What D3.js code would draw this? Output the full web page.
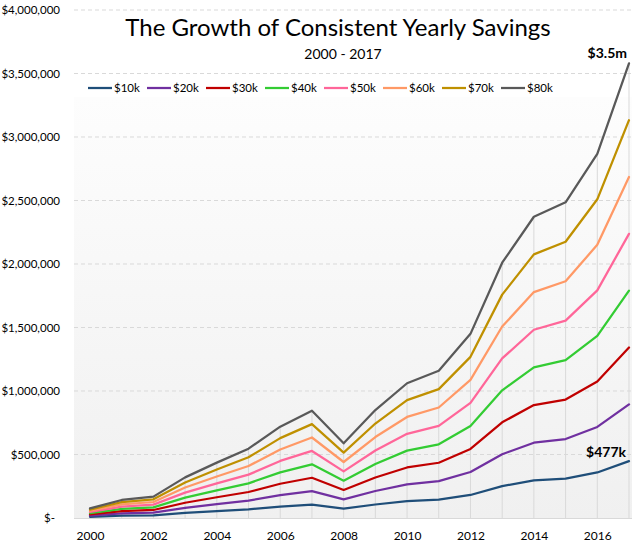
<!DOCTYPE html>
<html>
<head>
<meta charset="utf-8">
<script src="https://cdn.jsdelivr.net/npm/d3@7"></script>
<style>
  html, body { margin: 0; padding: 0; background: #ffffff; }
  svg { display: block; font-family: Lato, "Open Sans", sans-serif; }
</style>
</head>
<body>
<svg id="chart" width="632" height="545"></svg>
<script>
const years = [2000,2001,2002,2003,2004,2005,2006,2007,2008,2009,2010,2011,2012,2013,2014,2015,2016,2017];
const yearTickLabels = [2000,2002,2004,2006,2008,2010,2012,2014,2016];
const seriesNames = ["$10k","$20k","$30k","$40k","$50k","$60k","$70k","$80k"];
const seriesColors = ["#1f4e79","#7030a0","#c00000","#33cc33","#ff6699","#ff9966","#bf9000","#595959"];
// values in dollars
const s10k = [9500,17800,21000,40000,54500,68300,89900,105600,73500,106300,132600,145000,181300,251300,296500,310800,358500,447500];
const s20k = [19000,35500,42000,80000,109000,136500,179800,211300,147000,212500,265300,290000,362500,502500,593000,621500,717000,895000];
const s30k = [28500,53300,63000,120000,163500,204800,269600,316900,220500,318800,397900,435000,543800,753800,889500,932300,1075500,1342500];
const s40k = [38000,71000,84000,160000,218000,273000,359500,422500,294000,425000,530500,580000,725000,1005000,1186000,1243000,1434000,1790000];
const s50k = [47500,88800,105000,200000,272500,341300,449400,528100,367500,531300,663100,725000,906300,1256300,1482500,1553800,1792500,2237500];
const s60k = [57000,106500,126000,240000,327000,409500,539300,633800,441000,637500,795800,870000,1087500,1507500,1779000,1864500,2151000,2685000];
const s70k = [66500,124300,147000,280000,381500,477800,629100,739400,514500,743800,928400,1015000,1268800,1758800,2075500,2175300,2509500,3132500];
const s80k = [76000,142000,168000,320000,436000,546000,719000,845000,588000,850000,1061000,1160000,1450000,2010000,2372000,2486000,2868000,3580000];
const yTicks = [0,500000,1000000,1500000,2000000,2500000,3000000,3500000,4000000];
const titleText = "The Growth of Consistent Yearly Savings";
const subtitleText = "2000 - 2017";
const endLabelTop = "$3.5m";
const endLabelBottom = "$477k";

const allSeries = [s10k,s20k,s30k,s40k,s50k,s60k,s70k,s80k];

const svg = d3.select("#chart");
const x = d3.scalePoint().domain(years).range([90, 629]);
const y = d3.scaleLinear().domain([0, 4000000]).range([518, 10]);
const plotLeft = 74, plotRight = 632;

// gradient background
const defs = svg.append("defs");
const grad = defs.append("linearGradient").attr("id","bg").attr("x1",0).attr("y1",0).attr("x2",0).attr("y2",1);
grad.append("stop").attr("offset","0%").attr("stop-color","#fdfdfd");
grad.append("stop").attr("offset","100%").attr("stop-color","#f0f0f0");
svg.append("rect").attr("x", plotLeft).attr("y", 97).attr("width", plotRight - plotLeft).attr("height", y(0) - 97).attr("fill","url(#bg)");

// horizontal gridlines
svg.append("g").selectAll("line").data(yTicks.filter(d => d > 0)).join("line")
  .attr("x1", plotLeft).attr("x2", plotRight)
  .attr("y1", d => y(d)).attr("y2", d => y(d))
  .attr("stroke", "#d9d9d9").attr("stroke-width", 1).attr("stroke-dasharray", "4,3");

// drop lines
svg.append("g").selectAll("line").data(years).join("line")
  .attr("x1", d => x(d)).attr("x2", d => x(d))
  .attr("y1", (d,i) => y(s80k[i])).attr("y2", y(0))
  .attr("stroke", "#d9d9d9").attr("stroke-width", 1);

// bottom axis line
svg.append("line").attr("x1", plotLeft).attr("x2", plotRight).attr("y1", y(0)+0.5).attr("y2", y(0)+0.5)
  .attr("stroke", "#d9d9d9").attr("stroke-width", 1);

// y axis
const yAxis = d3.axisLeft(y).tickValues(yTicks).tickSize(0).tickPadding(0)
  .tickFormat(d => d === 0 ? "$-" : "$" + d3.format(",")(d));
const yg = svg.append("g").attr("transform", "translate(60,0)").call(yAxis);
yg.select(".domain").remove();
yg.selectAll("text").attr("font-size", 11.5).attr("fill", "#000").attr("font-family", "Lato, sans-serif")
  .attr("dx", d => d === 0 ? -5 : 0);

// x axis
const xAxis = d3.axisBottom(x).tickValues(yearTickLabels).tickSize(0).tickPadding(0);
const xg = svg.append("g").attr("transform", "translate(0,531)").call(xAxis);
xg.select(".domain").remove();
xg.selectAll("text").attr("font-size", 12).attr("fill", "#000").attr("font-family", "Lato, sans-serif");

// lines
const line = d3.line().x((d,i) => x(years[i])).y(d => y(d));
svg.append("g").selectAll("path").data(allSeries).join("path")
  .attr("d", d => line(d))
  .attr("fill", "none")
  .attr("stroke", (d,i) => seriesColors[i])
  .attr("stroke-width", 2.25)
  .attr("stroke-linejoin", "round")
  .attr("stroke-linecap", "round");

// legend
const lg = svg.append("g");
const items = lg.selectAll("g").data(seriesNames).join("g")
  .attr("transform", (d,i) => `translate(${88 + i*59},88)`);
items.append("line").attr("x1", 0).attr("x2", 24).attr("y1", 0).attr("y2", 0)
  .attr("stroke", (d,i) => seriesColors[i]).attr("stroke-width", 2.25);
items.append("text").attr("x", 26).attr("y", 4).attr("font-size", 11.5).attr("fill", "#000").text(d => d);

// titles
svg.append("text").attr("x", 338).attr("y", 36).attr("text-anchor", "middle")
  .attr("font-size", 24).attr("fill", "#000").text(titleText);
svg.append("text").attr("x", 343).attr("y", 59).attr("text-anchor", "middle")
  .attr("font-size", 14).attr("fill", "#000").text(subtitleText);

// end labels
svg.append("text").attr("x", 627).attr("y", 58).attr("text-anchor", "end")
  .attr("font-size", 14).attr("font-weight", "bold").attr("fill", "#000").text(endLabelTop);
svg.append("text").attr("x", 626).attr("y", 457).attr("text-anchor", "end")
  .attr("font-size", 14).attr("font-weight", "bold").attr("fill", "#000").text(endLabelBottom);
</script>
</body>
</html>
